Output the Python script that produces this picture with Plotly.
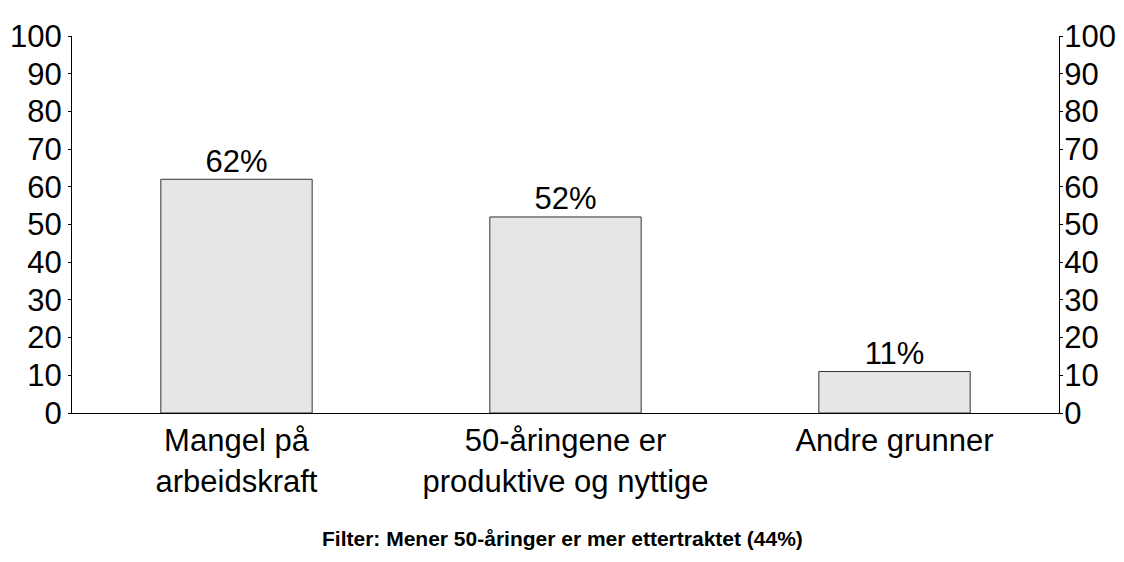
import plotly.graph_objects as go

# --- dados ---
categories = ["Mangel på<br>arbeidskraft", "50-åringene er<br>produktive og nyttige", "Andre grunner"]
values = [62, 52, 11]
labels = ["62%", "52%", "11%"]
y_ticks = [0, 10, 20, 30, 40, 50, 60, 70, 80, 90, 100]
caption = "Filter: Mener 50-åringer er mer ettertraktet (44%)"

FONT = "Liberation Sans, Arial, sans-serif"
FS = 31

# margens (a página tem 8px de margem no body)
L, R, T, B = 64, 73, 28, 157

fig = go.Figure()
fig.add_trace(go.Bar(
    x=categories, y=values,
    marker=dict(color="#e6e6e6", line=dict(color="#333333", width=1)),
    hoverinfo="skip",
))
# rótulos de valor logo acima das barras
fig.add_trace(go.Scatter(
    x=categories, y=values, text=labels, mode="text",
    textposition="top center", cliponaxis=False,
    textfont=dict(size=FS, color="black", family=FONT),
    hoverinfo="skip",
))
# traço invisível só para o eixo da direita
fig.add_trace(go.Scatter(x=categories, y=values, yaxis="y2", mode="markers",
                         marker=dict(opacity=0), hoverinfo="skip", showlegend=False))

axis_common = dict(
    range=[0, 100], tickvals=y_ticks, showgrid=False, zeroline=False,
    showline=True, linecolor="black", linewidth=1,
    ticks="outside", ticklen=3, tickcolor="black",
    tickfont=dict(size=FS, color="black", family=FONT),
)

fig.update_layout(
    width=1124, height=562,
    margin=dict(l=L, r=R, t=T, b=B, autoexpand=False),
    plot_bgcolor="white", paper_bgcolor="white",
    font=dict(family=FONT, color="black"),
    showlegend=False,
    bargap=0.54,
    xaxis=dict(showline=True, linecolor="black", linewidth=1, ticks="",
               tickfont=dict(size=FS, color="black", family=FONT), showgrid=False),
    yaxis=dict(**axis_common, side="left"),
    yaxis2=dict(**axis_common, side="right", overlaying="y", ticklabelstandoff=-5),
)

plot_h = 562 - T - B
plot_w = 1124 - L - R
fig.add_annotation(
    text=f"<b>{caption}</b>", showarrow=False,
    xref="paper", yref="paper",
    x=(562 - 8 - L) / plot_w, y=(562 - B - (538 - 8)) / plot_h, yanchor="middle",
    font=dict(size=21, color="black", family=FONT),
)

fig.write_html("out.html")
